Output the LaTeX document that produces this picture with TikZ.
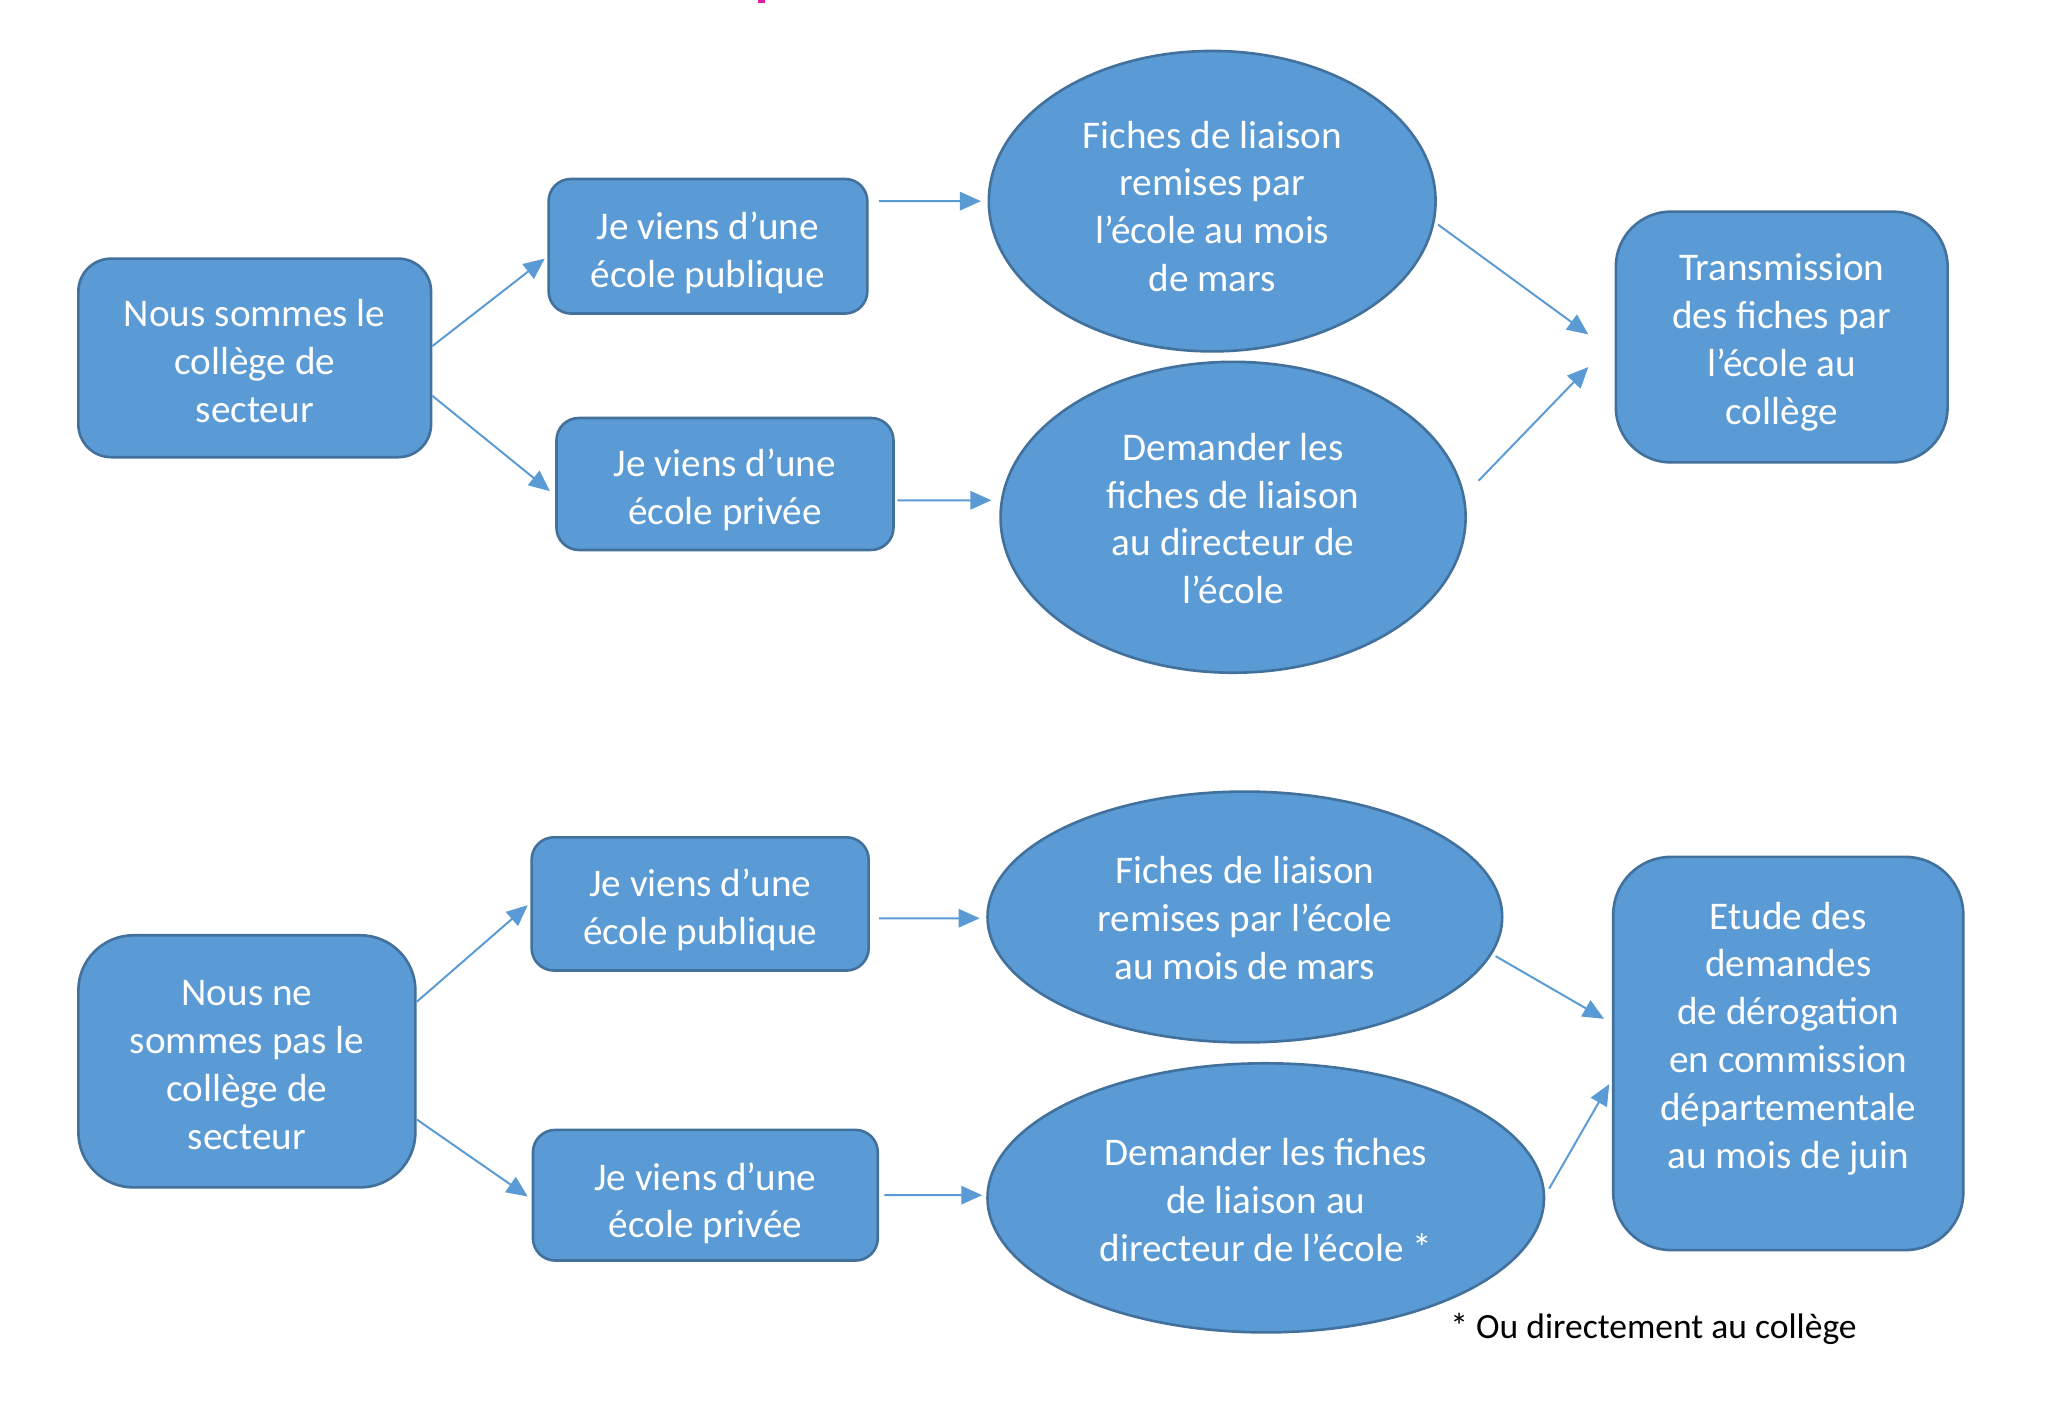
\documentclass[tikz,border=0pt]{standalone}
\usepackage{fontspec}
\setmainfont{Carlito}
\usetikzlibrary{shapes.geometric,arrows.meta,calc}
\definecolor{fillblue}{HTML}{5B9BD5}
\definecolor{edgeblue}{HTML}{41719C}
\definecolor{arrowblue}{HTML}{5B9BD5}
\definecolor{pinkmark}{HTML}{E01E9A}
\newcommand{\ntxt}[2]{\raisebox{#1}[\height][\depth]{\begin{tabular}{@{}c@{}}#2\end{tabular}}}
\tikzset{
  box/.style={draw=edgeblue, fill=fillblue, line width=1pt, text=white, align=center,
    inner sep=0pt, font=\fontsize{15}{18.3}\selectfont},
  oval/.style={ellipse, draw=edgeblue, fill=fillblue, line width=1pt, text=white, align=center,
    inner sep=0pt, font=\fontsize{15}{18.3}\selectfont},
  link/.style={draw=arrowblue, line width=0.75pt, -{Triangle[length=8pt,width=7pt]}},
  note/.style={font=\fontsize{13.6}{16}\selectfont, text=black, inner sep=0pt, anchor=west}
}
\begin{document}
\begin{tikzpicture}[x=0.5pt,y=-0.5pt]
\useasboundingbox (0,0) rectangle (1560,1082);
\fill[white] (0,0) rectangle (1560,1082);
\fill[pinkmark] (577,0) rectangle (583,2);

\begin{scope}[scale=0.995, transform shape]
% ---------- top half ----------
\node (A) [box, rounded corners=12.5pt, minimum width=135pt, minimum height=76pt] at (195,274)
  {\ntxt{-2.8pt}{Nous sommes le\\collège de\\secteur}};
\node (B) [box, rounded corners=8.5pt, minimum width=122pt, minimum height=51.5pt] at (542,188.5)
  {\ntxt{-3pt}{Je viens d’une\\école publique}};
\node (C) [box, rounded corners=8.5pt, minimum width=129pt, minimum height=50.5pt] at (555,370.5)
  {\ntxt{-2.75pt}{Je viens d’une\\école privée}};
\node (D) [oval, minimum width=171pt, minimum height=115pt] at (928,154)
  {\ntxt{-3.5pt}{Fiches de liaison\\remises par\\l’école au mois\\de mars}};
\node (E) [oval, minimum width=178pt, minimum height=119pt] at (944,396)
  {\ntxt{-2pt}{Demander les\\fiches de liaison\\au directeur de\\l’école}};
\node (F) [box, rounded corners=21pt, minimum width=127pt, minimum height=96pt] at (1364,258)
  {\ntxt{-2.3pt}{Transmission\\des fiches par\\l’école au\\collège}};

\draw[link] ($(A.east)+(0,-9)$) -- ($(B.west)+(-2,9.5)$);
\draw[link] ($(A.east)+(0,29)$) -- ($(C.west)+(-4,5.5)$);
\draw[link] ($(B.east)+(8,-34.5)$) -- ($(D.west)+(-5,0)$);
\draw[link] ($(C.east)+(2,12.5)$) -- ($(E.west)+(-6,-13)$);
\draw[link] ($(D.east)+(1,18)$) -- ($(F.west)+(-20,-2)$);
\draw[link] ($(E.east)+(9,-28)$) -- ($(F.west)+(-20,23)$);

% ---------- bottom half ----------
\node (G) [box, rounded corners=21pt, minimum width=129pt, minimum height=96.5pt] at (189,812.5)
  {\ntxt{-2.6pt}{Nous ne\\sommes pas le\\collège de\\secteur}};
\node (H) [box, rounded corners=8.5pt, minimum width=129pt, minimum height=51pt] at (536,692)
  {\ntxt{-2.75pt}{Je viens d’une\\école publique}};
\node (I) [box, rounded corners=8.5pt, minimum width=132pt, minimum height=50pt] at (540,915)
  {\ntxt{-3.5pt}{Je viens d’une\\école privée}};
\node (J) [oval, minimum width=197pt, minimum height=96pt] at (953,702)
  {\ntxt{-2pt}{Fiches de liaison\\remises par l’école\\au mois de mars}};
\node (K) [oval, minimum width=213pt, minimum height=103pt] at (969,917)
  {\ntxt{-2.4pt}{Demander les fiches\\de liaison au\\directeur de l’école *}};
\node (L) [box, rounded corners=22pt, minimum width=134pt, minimum height=150.5pt] at (1369,806.5)
  {\ntxt{5.5pt}{Etude des\\demandes\\de dérogation\\en commission\\départementale\\au mois de juin}};
\node (N) [note] at (1110,1017) {* Ou directement au collège};

\draw[link] ($(G.east)+(0,-45.5)$) -- ($(H.west)+(-2,1)$);
\draw[link] ($(G.east)+(0,44.5)$) -- ($(I.west)+(-3,1)$);
\draw[link] ($(H.east)+(7,11)$) -- ($(J.west)+(-5,1)$);
\draw[link] ($(I.east)+(4,0)$) -- ($(K.west)+(-3,-2)$);
\draw[link] ($(J.east)+(-6,30)$) -- ($(L.west)+(-6,-26.5)$);
\draw[link] ($(K.east)+(3,-7)$) -- ($(L.west)+(-2,23.5)$);
\end{scope}
\end{tikzpicture}
\end{document}
